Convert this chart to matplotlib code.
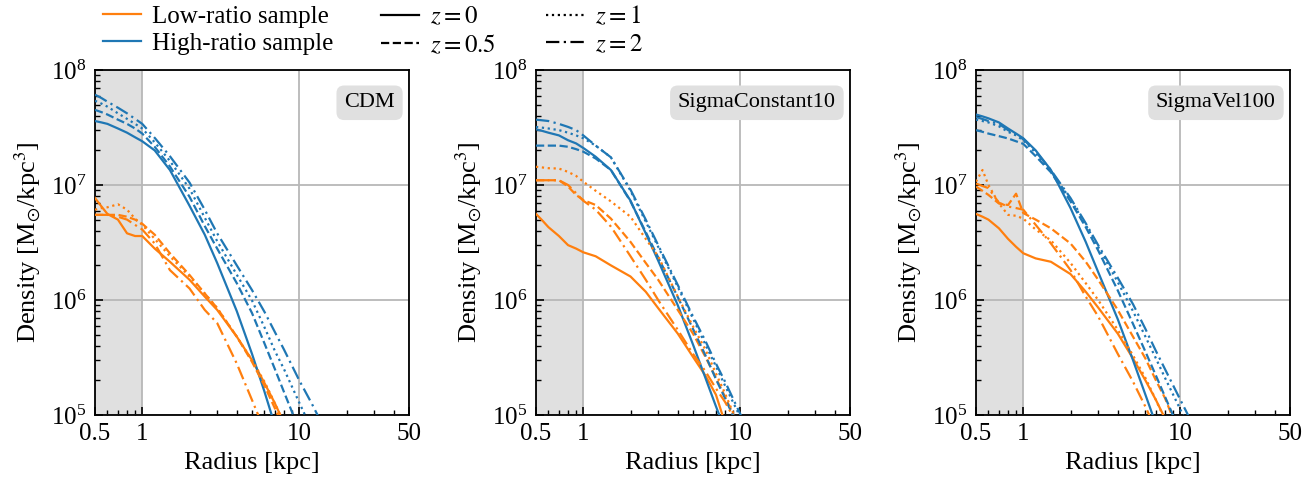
import numpy as np
import matplotlib
matplotlib.use("Agg")
import matplotlib.pyplot as plt
from matplotlib.lines import Line2D
from matplotlib.ticker import FixedLocator, LogLocator, NullFormatter, FixedFormatter

plt.rcParams['font.family'] = ['Liberation Serif', 'DejaVu Serif']
plt.rcParams['mathtext.fontset'] = 'stix'

# ---------------- data ----------------
radius = [0.5, 0.55, 0.6, 0.7, 0.8, 0.9, 1.0, 1.2, 1.5, 2, 2.5, 3, 4, 5, 6, 7, 8, 10, 12, 15]
nan = float('nan')

panel_titles = ["CDM", "SigmaConstant10", "SigmaVel100"]
redshift_labels = ["$z = 0$", "$z = 0.5$", "$z = 1$", "$z = 2$"]
sample_labels = ["Low-ratio sample", "High-ratio sample"]

# CDM
cdm_high_z0 = [3.6e7, 3.5e7, 3.4e7, 3.1e7, 2.85e7, 2.6e7, 2.4e7, 2.0e7, 1.35e7, 6.6e6, 3.7e6, 2.1e6, 8.0e5, 3.4e5, 1.6e5, 8.1e4, nan, nan, nan, nan]
cdm_high_z05 = [4.5e7, 4.3e7, 4.1e7, 3.7e7, 3.4e7, 3.1e7, 2.8e7, 2.15e7, 1.45e7, 7.9e6, 4.4e6, 2.8e6, 1.4e6, 7.7e5, 4.2e5, 2.5e5, 1.58e5, 7.4e4, nan, nan]
cdm_high_z1 = [5.4e7, 5.1e7, 4.8e7, 4.2e7, 3.76e7, 3.4e7, 3.1e7, 2.35e7, 1.62e7, 9.3e6, 5.2e6, 3.25e6, 1.66e6, 9.9e5, 5.8e5, 3.6e5, 2.5e5, 1.28e5, 7.5e4, nan]
cdm_high_z2 = [6.1e7, 5.7e7, 5.3e7, 4.7e7, 4.2e7, 3.76e7, 3.4e7, 2.57e7, 1.78e7, 1.05e7, 6.1e6, 3.8e6, 2.0e6, 1.22e6, 7.9e5, 5.25e5, 3.7e5, 2.0e5, 1.26e5, 6.9e4]
cdm_low_z0 = [7.7e6, 6.5e6, 5.6e6, 5.0e6, 3.8e6, 3.6e6, 3.6e6, 2.8e6, 2.15e6, 1.5e6, 1.07e6, 8.2e5, 4.8e5, 3.0e5, 1.9e5, 1.26e5, 8.5e4, nan, nan, nan]
cdm_low_z05 = [5.5e6, 5.5e6, 5.5e6, 5.5e6, 5.3e6, 5.0e6, 4.6e6, 3.7e6, 2.55e6, 1.65e6, 1.14e6, 8.5e5, 4.8e5, 2.9e5, 1.8e5, 1.14e5, 7.7e4, nan, nan, nan]
cdm_low_z1 = [6.1e6, 6.3e6, 6.4e6, 6.8e6, 6.1e6, 5.1e6, 4.5e6, 3.4e6, 2.4e6, 1.6e6, 1.14e6, 8.5e5, 4.8e5, 3.0e5, 1.95e5, 1.26e5, 8.5e4, nan, nan, nan]
cdm_low_z2 = [5.5e6, 5.5e6, 5.5e6, 5.3e6, 5.0e6, 4.5e6, 4.1e6, 3.1e6, 1.82e6, 1.26e6, 8.2e5, 6.3e5, 2.8e5, 1.35e5, 7.4e4, nan, nan, nan, nan, nan]

# SigmaConstant10
sc_high_z0 = [3.05e7, 2.95e7, 2.85e7, 2.7e7, 2.45e7, 2.3e7, 2.1e7, 1.76e7, 1.35e7, 7.3e6, 3.8e6, 2.2e6, 9.0e5, 4.1e5, 2.1e5, 1.19e5, 7.4e4, nan, nan, nan]
sc_high_z05 = [2.2e7, 2.2e7, 2.2e7, 2.2e7, 2.15e7, 2.05e7, 1.95e7, 1.7e7, 1.35e7, 7.2e6, 3.9e6, 2.35e6, 1.06e6, 5.6e5, 3.3e5, 2.05e5, 1.4e5, 7.2e4, nan, nan]
sc_high_z1 = [3.2e7, 3.15e7, 3.1e7, 3.0e7, 2.85e7, 2.7e7, 2.55e7, 2.2e7, 1.74e7, 8.9e6, 4.8e6, 2.9e6, 1.3e6, 6.9e5, 4.1e5, 2.65e5, 1.8e5, 9.6e4, 5.8e4, nan]
sc_high_z2 = [3.7e7, 3.65e7, 3.6e7, 3.4e7, 3.2e7, 3.0e7, 2.7e7, 2.2e7, 1.74e7, 9.1e6, 5.0e6, 3.0e6, 1.35e6, 7.2e5, 4.4e5, 2.8e5, 1.95e5, 1.02e5, 6.2e4, nan]
sc_low_z0 = [5.6e6, 4.9e6, 4.3e6, 3.6e6, 3.0e6, 2.8e6, 2.6e6, 2.4e6, 2.0e6, 1.6e6, 1.18e6, 8.5e5, 5.1e5, 3.2e5, 2.2e5, 1.5e5, 8.5e4, nan, nan, nan]
sc_low_z05 = [1.1e7, 1.1e7, 1.1e7, 1.1e7, 9.7e6, 8.2e6, 7.4e6, 6.7e6, 5.1e6, 3.2e6, 2.1e6, 1.5e6, 8.2e5, 5.1e5, 3.2e5, 2.1e5, 1.44e5, 7.4e4, nan, nan]
sc_low_z1 = [1.44e7, 1.42e7, 1.4e7, 1.39e7, 1.3e7, 1.2e7, 1.07e7, 8.9e6, 7.2e6, 5.3e6, 3.4e6, 2.4e6, 1.07e6, 5.9e5, 3.7e5, 2.3e5, 1.54e5, 7.4e4, nan, nan]
sc_low_z2 = [1.1e7, 1.1e7, 1.1e7, 1.1e7, 1.0e7, 8.5e6, 7.3e6, 6.1e6, 4.35e6, 2.4e6, 1.5e6, 1.0e6, 5.5e5, 3.4e5, 2.4e5, 1.7e5, 1.3e5, 7.4e4, nan, nan]

# SigmaVel100
sv_high_z0 = [4.1e7, 3.95e7, 3.8e7, 3.5e7, 3.1e7, 2.8e7, 2.55e7, 2.0e7, 1.35e7, 6.3e6, 3.2e6, 1.75e6, 6.8e5, 3.0e5, 1.5e5, 8.3e4, nan, nan, nan, nan]
sv_high_z05 = [3.0e7, 2.9e7, 2.8e7, 2.66e7, 2.54e7, 2.4e7, 2.28e7, 1.78e7, 1.29e7, 7.2e6, 4.3e6, 2.7e6, 1.21e6, 6.2e5, 3.55e5, 2.2e5, 1.44e5, 7.1e4, nan, nan]
sv_high_z1 = [3.7e7, 3.6e7, 3.5e7, 3.24e7, 2.9e7, 2.7e7, 2.45e7, 1.9e7, 1.32e7, 7.5e6, 4.5e6, 2.9e6, 1.43e6, 8.0e5, 4.8e5, 3.1e5, 2.1e5, 1.12e5, 6.7e4, nan]
sv_high_z2 = [3.9e7, 3.75e7, 3.6e7, 3.4e7, 3.0e7, 2.75e7, 2.5e7, 1.95e7, 1.35e7, 7.7e6, 4.65e6, 3.0e6, 1.56e6, 9.2e5, 5.6e5, 3.6e5, 2.5e5, 1.36e5, 8.3e4, nan]
sv_low_z0 = [5.6e6, 5.3e6, 5.0e6, 4.2e6, 3.4e6, 2.9e6, 2.55e6, 2.3e6, 2.15e6, 1.68e6, 1.18e6, 8.6e5, 5.1e5, 3.1e5, 2.0e5, 1.35e5, 9.3e4, nan, nan, nan]
sv_low_z05 = [9.7e6, 8.9e6, 8.2e6, 6.9e6, 6.7e6, 8.4e6, 5.7e6, 5.0e6, 4.2e6, 3.1e6, 2.15e6, 1.5e6, 8.2e5, 4.8e5, 3.1e5, 2.0e5, 1.4e5, 6.5e4, nan, nan]
sv_low_z1 = [1.07e7, 1.35e7, 1.0e7, 6.9e6, 5.5e6, 5.4e6, 5.1e6, 4.1e6, 3.3e6, 2.1e6, 1.4e6, 1.0e6, 5.5e5, 3.3e5, 2.1e5, 1.35e5, 9.0e4, nan, nan, nan]
sv_low_z2 = [1.03e7, 9.8e6, 9.4e6, 7.0e6, 6.5e6, 6.3e6, 6.1e6, 4.5e6, 3.1e6, 1.82e6, 1.07e6, 7.2e5, 3.4e5, 1.95e5, 1.18e5, 7.4e4, nan, nan, nan, nan]

panel_low = [
    [cdm_low_z0, cdm_low_z05, cdm_low_z1, cdm_low_z2],
    [sc_low_z0, sc_low_z05, sc_low_z1, sc_low_z2],
    [sv_low_z0, sv_low_z05, sv_low_z1, sv_low_z2],
]
panel_high = [
    [cdm_high_z0, cdm_high_z05, cdm_high_z1, cdm_high_z2],
    [sc_high_z0, sc_high_z05, sc_high_z1, sc_high_z2],
    [sv_high_z0, sv_high_z05, sv_high_z1, sv_high_z2],
]

# ---------------- style ----------------
c_low = '#ff7f0e'
c_high = '#1f77b4'
linestyles = ['-', '--', ':', (0, (6, 2, 1, 2))]
FS_TICK = 18
FS_LABEL = 19
FS_BOX = 16
FS_LEG = 18
LW = 1.6

W, H = 1316, 487
fig = plt.figure(figsize=(W / 100, H / 100), dpi=100)

lefts_px = [95, 536, 976]
ax_w_px = 314
top_px, bot_px = 70, 415

for i in range(3):
    ax = fig.add_axes([lefts_px[i] / W, 1 - bot_px / H, ax_w_px / W, (bot_px - top_px) / H])
    ax.set_xscale('log')
    ax.set_yscale('log')
    ax.set_xlim(0.5, 50)
    ax.set_ylim(1e5, 1e8)
    ax.axvspan(0.5, 1.0, color='#e0e0e0', zorder=0, lw=0)
    for j in range(4):
        ax.plot(radius, panel_low[i][j], color=c_low, ls=linestyles[j], lw=LW, zorder=3)
        ax.plot(radius, panel_high[i][j], color=c_high, ls=linestyles[j], lw=LW, zorder=3)

    ax.xaxis.set_major_locator(FixedLocator([0.5, 1, 10, 50]))
    ax.xaxis.set_major_formatter(FixedFormatter(['0.5', '1', '10', '50']))
    ax.xaxis.set_minor_locator(FixedLocator([0.6, 0.7, 0.8, 0.9, 2, 3, 4, 5, 6, 7, 8, 9, 20, 30, 40]))
    ax.xaxis.set_minor_formatter(NullFormatter())
    ax.yaxis.set_major_locator(FixedLocator([1e5, 1e6, 1e7, 1e8]))
    ax.yaxis.set_minor_locator(LogLocator(base=10, subs=np.arange(2, 10), numticks=20))
    ax.yaxis.set_minor_formatter(NullFormatter())
    ax.tick_params(which='both', direction='in', labelsize=FS_TICK, top=False, right=False)
    ax.tick_params(which='major', length=6, width=1.2)
    ax.tick_params(which='minor', length=3.5, width=1.0)
    ax.tick_params(axis='x', pad=6)
    ax.tick_params(axis='y', pad=6)
    ax.grid(True, which='major', color='#b8b8b8', lw=1.3, zorder=1)
    ax.set_axisbelow(True)
    for s in ax.spines.values():
        s.set_linewidth(1.3)
    ax.set_xlabel('Radius [kpc]', fontsize=FS_LABEL, labelpad=5)
    ax.set_ylabel(r'Density [M$_{\odot}$/kpc$^3$]', fontsize=FS_LABEL, labelpad=6)
    ax.text(0.955, 0.905, panel_titles[i], transform=ax.transAxes, ha='right', va='center',
            fontsize=FS_BOX, zorder=5,
            bbox=dict(boxstyle='round,pad=0.35', fc='#e0e0e0', ec='none'))

# legends
h_samples = [Line2D([], [], color=c_low, lw=LW), Line2D([], [], color=c_high, lw=LW)]
leg1 = fig.legend(h_samples, sample_labels, loc='upper left', bbox_to_anchor=(103 / W, 1 - 5 / H),
                  frameon=False, fontsize=FS_LEG, handlelength=1.52, handletextpad=0.44,
                  labelspacing=0.2, borderaxespad=0.0, borderpad=0.0)
h_z = [Line2D([], [], color='k', lw=LW, ls=ls) for ls in linestyles]
leg2 = fig.legend(h_z, redshift_labels, loc='upper left', bbox_to_anchor=(381 / W, 1 - 5 / H),
                  frameon=False, fontsize=FS_LEG, handlelength=1.52, handletextpad=0.44,
                  labelspacing=0.2, ncol=2, columnspacing=2.0, borderaxespad=0.0, borderpad=0.0)

fig.savefig('out.png', dpi=100)
